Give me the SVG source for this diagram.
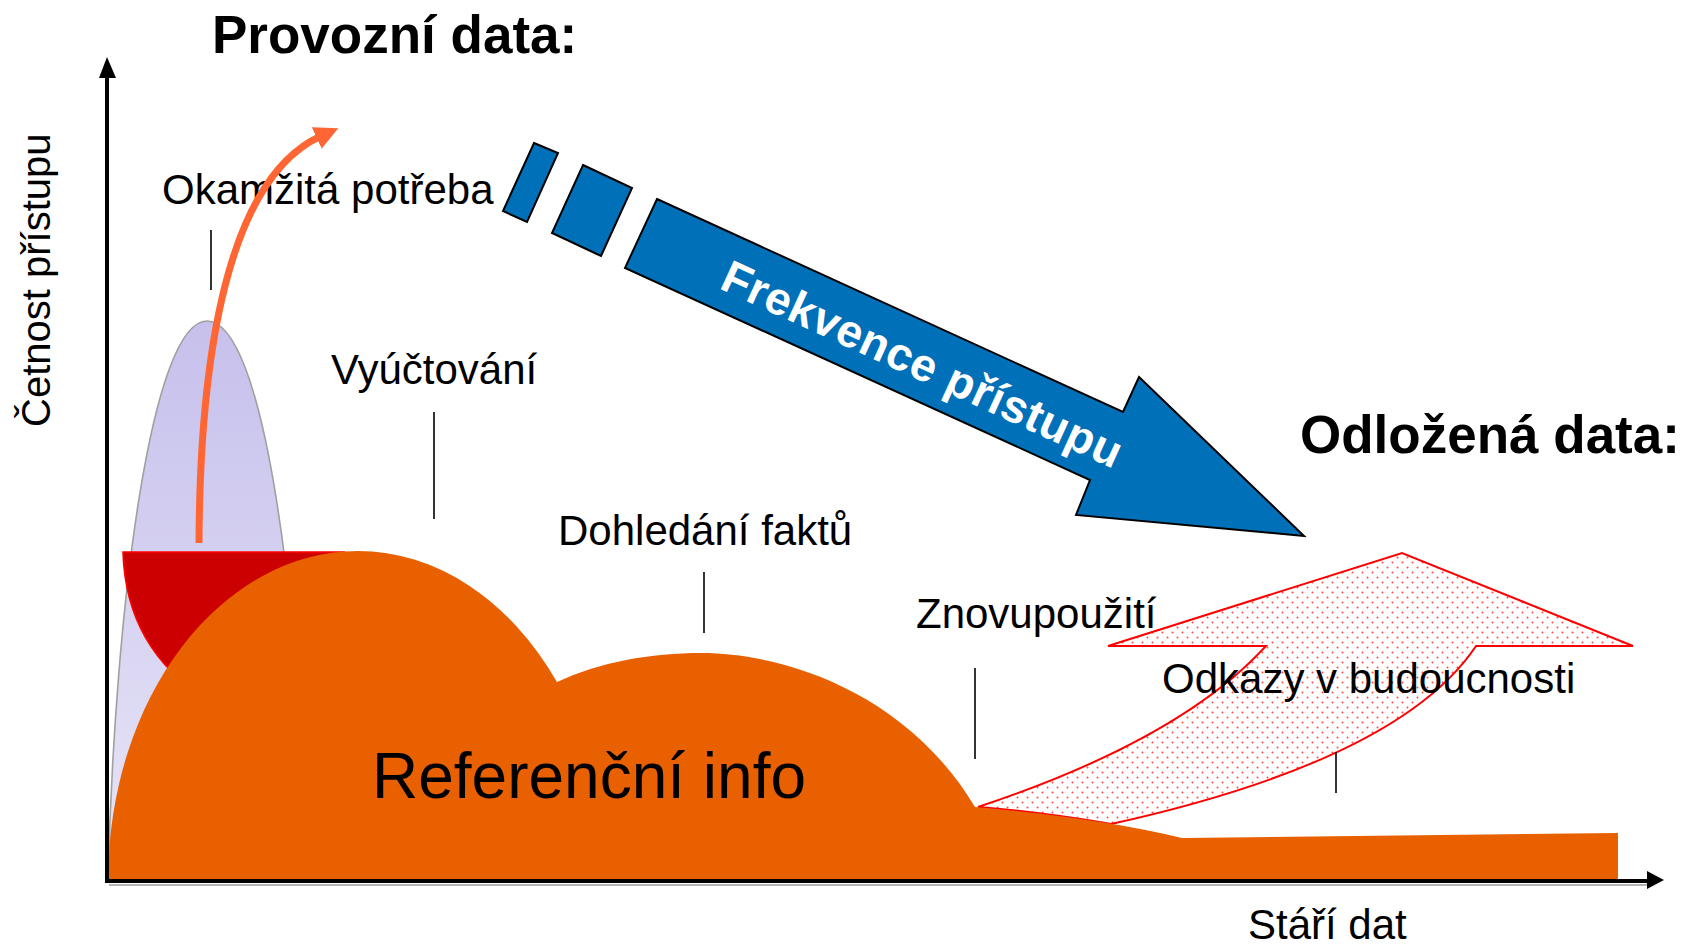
<svg xmlns="http://www.w3.org/2000/svg" width="1684" height="945" viewBox="0 0 1684 945">
<style>
text{font-family:"Liberation Sans",Arial,sans-serif;fill:#000}
.lbl{font-size:42px}
.title{font-size:53px;font-weight:bold}
.tick{stroke:#000;stroke-width:1.6;fill:none}
.axis{stroke:#000;stroke-width:4;fill:none}
.blue{fill:#0070b8;stroke:#000;stroke-width:2;stroke-linejoin:miter}
</style>
<defs>
<linearGradient id="lav" x1="0" y1="0" x2="0" y2="1">
<stop offset="0" stop-color="#c6c0ec"/>
<stop offset="1" stop-color="#e8e6f7"/>
</linearGradient>
<pattern id="dots" width="10" height="10" patternUnits="userSpaceOnUse">
<rect width="10" height="10" fill="#fff"/>
<circle cx="2.5" cy="2.5" r="1" fill="#ff4a4a"/>
<circle cx="7.5" cy="7.5" r="1" fill="#ff4a4a"/>
</pattern>
<marker id="oh" viewBox="0 0 10 10" refX="2" refY="5" markerWidth="3.4" markerHeight="3.4" orient="auto" markerUnits="strokeWidth">
<path d="M0,0 L10,5 L0,10 z" fill="#ff6633"/>
</marker>
</defs>

<g id="bell">
<path d="M108,881 C115,600 152,321 207,321 C264,321 300,600 307,881 Z" fill="url(#lav)" stroke="#a0a0a0" stroke-width="1.6"/>
</g>
<g id="bowl">
<path d="M123,552 L345,552 L345,720 L205,720 L205,700 C155,665 125,620 123,552 Z" fill="#cc0000" stroke="none"/>
<path d="M345,552 L123,552 C125,620 155,665 205,700" fill="none" stroke="#ff0000" stroke-width="1.6"/>
</g>

<g id="future-arrow">
<path d="M978,807 Q1180,740 1266,646 L1108,646 L1402,553 L1633,646 L1476,646 Q1400,760 1111,824 Q1040,812 978,807 Z" fill="url(#dots)" stroke="#ff0000" stroke-width="2"/>
</g>

<g id="reference">
<path d="M108,879 A250,330 0 0 1 358,551 A250,330 0 0 1 557,682 C600,662 650,653 702,653 C780,653 905,690 975,807 Q1100,818 1182,838 L1618,833 L1618,879 Z" fill="#e86000"/>
<text x="372" y="798" style="font-size:64px">Referenční info</text>
</g>

<g id="axes">
<line class="axis" x1="107" y1="881" x2="107" y2="74"/>
<polygon points="107,57 99,78 116,78" fill="#000"/>
<line x1="109" y1="885" x2="1648" y2="885" stroke="#9a9a9a" stroke-width="1.5"/>
<line class="axis" x1="105" y1="881" x2="1650" y2="881"/>
<polygon points="1664,880 1647,871 1647,889" fill="#000"/>
<text class="lbl" transform="translate(50,427) rotate(-90)" style="font-size:40px">Četnost přístupu</text>
<text class="lbl" x="1248" y="939">Stáří dat</text>
</g>

<g id="labels">
<text class="title" x="212" y="53">Provozní data:</text>
<text class="title" x="1300" y="453">Odložená data:</text>
<text class="lbl" x="162" y="204">Okamžitá potřeba</text>
<line class="tick" x1="211" y1="230" x2="211" y2="290"/>
<text class="lbl" x="331" y="384">Vyúčtování</text>
<line class="tick" x1="434" y1="412" x2="434" y2="519"/>
<text class="lbl" x="558" y="545">Dohledání faktů</text>
<line class="tick" x1="704" y1="572" x2="704" y2="633"/>
<text class="lbl" x="916" y="628">Znovupoužití</text>
<line class="tick" x1="975" y1="668" x2="975" y2="759"/>
<text class="lbl" x="1162" y="693">Odkazy v budoucnosti</text>
<line class="tick" x1="1336" y1="752" x2="1336" y2="793"/>
</g>

<g id="connectors">
<path d="M199,543 C200,330 235,175 321,136" fill="none" stroke="#ff6633" stroke-width="7" marker-end="url(#oh)"/>
</g>

<g id="frequency-arrow">
<polygon class="blue" points="534,143 558,153 527,222 503,211"/>
<polygon class="blue" points="583,165 632,188 601,256 552,233"/>
<polygon class="blue" points="657,199 1123,412 1139,377 1304,536 1076,515 1090,480 625,268"/>
<text transform="translate(718,288) rotate(24.57)" style="font-size:46px;font-weight:bold;fill:#fff" textLength="435" lengthAdjust="spacing">Frekvence přístupu</text>
</g>
</svg>
